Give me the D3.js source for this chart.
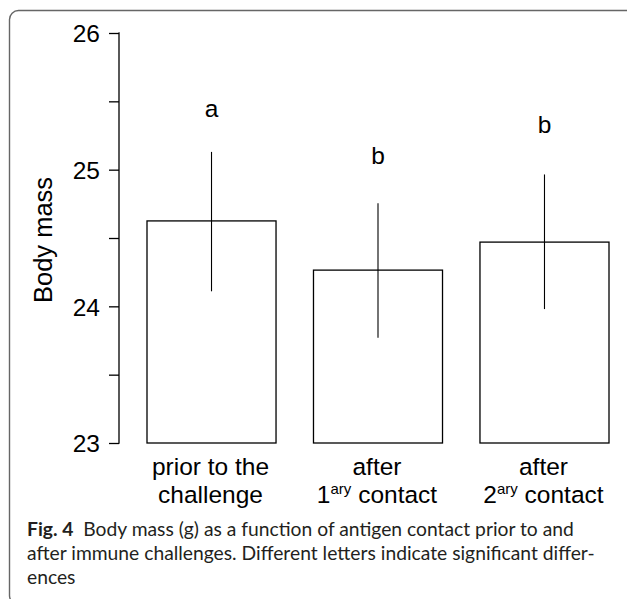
<!DOCTYPE html>
<html>
<head>
<meta charset="utf-8">
<script src="https://cdn.jsdelivr.net/npm/d3@7"></script>
<style>
  html, body { margin: 0; padding: 0; background: #fff; }
  svg { display: block; }
</style>
</head>
<body>
<svg id="chart" width="627" height="599"></svg>
<script>
// ---- data ----
const categories = ["prior", "first", "second"];
const labelLine1 = ["prior to the", "after", "after"];
const labelLine2 = [["challenge", "", ""], ["1", "ary", " contact"], ["2", "ary", " contact"]];
const means = [24.625, 24.265, 24.47];
const upper = [25.13, 24.755, 24.965];
const lower = [24.11, 23.77, 23.98];
const letters = ["a", "b", "b"];
const letterPos = [25.385, 25.04, 25.27];
const majorTicks = [23, 24, 25, 26];
const minorTicks = [23.5, 24.5, 25.5];
const captionLines = [
  ["Fig. 4", "  Body mass (g) as a function of antigen contact prior to and"],
  ["", "after immune challenges. Different letters indicate significant differ-"],
  ["", "ences"]
];

const svg = d3.select("#chart");
const font = "'Liberation Sans', Arial, sans-serif";

// frame
svg.append("rect")
  .attr("x", 9.5).attr("y", 10.5)
  .attr("width", 630).attr("height", 594)
  .attr("rx", 9).attr("ry", 9)
  .attr("fill", "none").attr("stroke", "#666").attr("stroke-width", 1.4);

const y = d3.scaleLinear().domain([23, 26]).range([443, 33]);
const x = d3.scaleBand().domain(categories).range([147, 609]).paddingInner(0.225).paddingOuter(0);

// y axis
const axisX = 119;
const gy = svg.append("g").attr("transform", `translate(${axisX},0)`);
gy.call(d3.axisLeft(y).tickValues(majorTicks.concat(minorTicks).sort())
  .tickSize(10).tickFormat(d => Number.isInteger(d) ? d : ""))
  .call(g => g.select(".domain").attr("d", `M-0.5,${y(23)}H0V${y(26)}H-0.5`))
  .call(g => g.selectAll("line").attr("stroke", "#000").attr("stroke-width", 1.3))
  .call(g => g.select(".domain").attr("stroke", "#000").attr("stroke-width", 1.3))
  .call(g => g.selectAll("text").attr("font-family", font).attr("font-size", 24.5)
    .attr("fill", "#000").attr("x", -19).attr("dy", "0.36em"));

// y label
svg.append("text")
  .attr("transform", `translate(52,${(y(23) + y(26)) / 2 + 2}) rotate(-90)`)
  .attr("text-anchor", "middle")
  .attr("font-family", font).attr("font-size", 25.5)
  .attr("fill", "#000")
  .text("Body mass");

// bars
svg.append("g").selectAll("rect").data(categories).join("rect")
  .attr("x", d => x(d))
  .attr("y", (d, i) => y(means[i]))
  .attr("width", x.bandwidth())
  .attr("height", (d, i) => y(23) - y(means[i]))
  .attr("fill", "#fff").attr("stroke", "#000").attr("stroke-width", 1.3);

// error bars
svg.append("g").selectAll("line").data(categories).join("line")
  .attr("x1", d => x(d) + x.bandwidth() / 2)
  .attr("x2", d => x(d) + x.bandwidth() / 2)
  .attr("y1", (d, i) => y(upper[i]))
  .attr("y2", (d, i) => y(lower[i]))
  .attr("stroke", "#000").attr("stroke-width", 1.1);

// letters
svg.append("g").selectAll("text").data(categories).join("text")
  .attr("x", d => x(d) + x.bandwidth() / 2)
  .attr("y", (d, i) => y(letterPos[i]))
  .attr("text-anchor", "middle")
  .attr("font-family", font).attr("font-size", 24.5).attr("fill", "#000")
  .text((d, i) => letters[i]);

// x labels
const xl = svg.append("g").attr("font-family", font).attr("font-size", 24.5).attr("fill", "#000").attr("text-anchor", "middle");
categories.forEach((c, i) => {
  const cx = x(c) + x.bandwidth() / 2 - 1;
  xl.append("text").attr("x", cx).attr("y", 475).text(labelLine1[i]);
  const t = xl.append("text").attr("x", cx).attr("y", 503);
  const parts = labelLine2[i];
  if (parts[1] === "") {
    t.text(parts[0]);
  } else {
    t.append("tspan").text(parts[0]);
    t.append("tspan").attr("font-size", 15).attr("dy", -9).text(parts[1]);
    t.append("tspan").attr("dy", 9).text(parts[2]);
  }
});

// caption
const capFont = "Lato, 'Open Sans', sans-serif";
const cap = svg.append("g").attr("font-family", capFont).attr("fill", "#231f20");
const capBase = [536, 560, 584];
const capTexts = [];
captionLines.forEach((ln, i) => {
  const t = cap.append("text").attr("x", 27).attr("y", capBase[i]).attr("xml:space", "preserve").style("white-space", "pre");
  if (ln[0]) t.append("tspan").attr("font-weight", "bold").text(ln[0]);
  t.append("tspan").text(ln[1]);
  capTexts.push(t);
});
// fit font size so line 2 spans to x=595
let fs = 16;
cap.attr("font-size", fs);
const w2 = capTexts[1].node().getComputedTextLength();
fs = fs * 568 / w2;
cap.attr("font-size", fs);
</script>
</body>
</html>
